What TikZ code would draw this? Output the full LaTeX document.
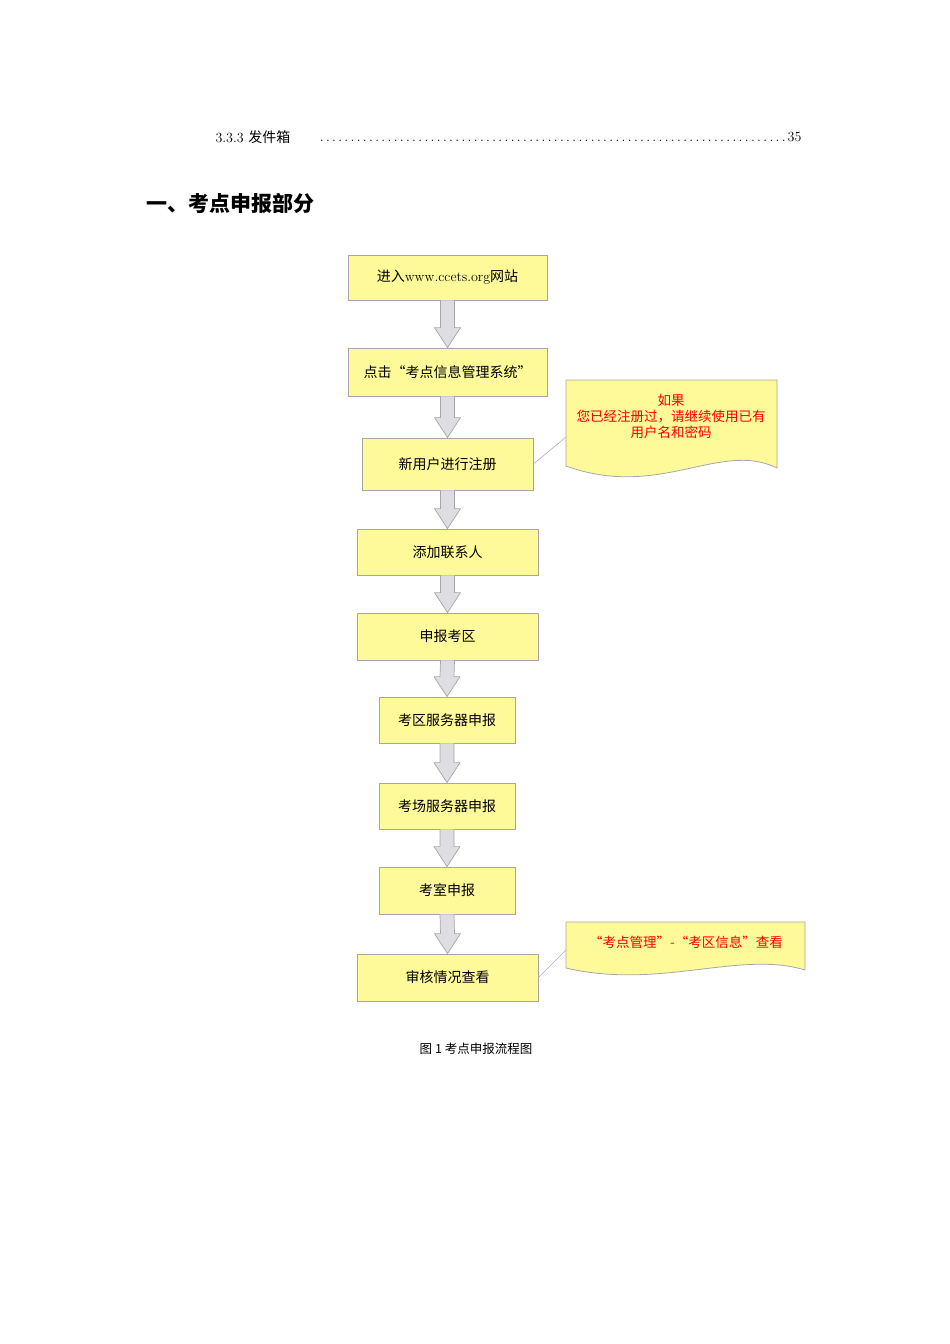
\documentclass[tikz,border=0pt]{standalone}
\usepackage{fontspec}
\newfontfamily\cjk{Noto Sans CJK SC}
\usetikzlibrary{calc}
\newcommand{\flowarrow}[2]{%
  \fill[arr] ($(#1.south)+(-7,0)$) -- ($(#1.south)+(7,0)$) -- ($(#2.north)+(7,-20)$) -- ($(#2.north)+(13,-20)$) -- (#2.north) -- ($(#2.north)+(-13,-20)$) -- ($(#2.north)+(-7,-20)$) -- cycle;
  \draw[arrd] ($(#1.south)+(-7,0)$) -- ($(#2.north)+(-7,-20)$) -- ($(#2.north)+(-13,-20)$) -- (#2.north) -- ($(#2.north)+(13,-20)$) -- ($(#2.north)+(7,-20)$) -- ($(#1.south)+(7,0)$);}
\begin{document}
\begin{tikzpicture}[x=1pt,y=-1pt,
  box/.style={draw=black!35,fill=yellow!40!white,line width=0.8pt,inner sep=0pt,font=\cjk\fontsize{14}{16}\selectfont},
  arr/.style={fill=blue!8!gray!25},
  arrd/.style={draw=gray!70,line width=0.7pt},
  note/.style={font=\cjk\fontsize{13.5}{16}\selectfont,text=red,align=center}]
\useasboundingbox (0,0) rectangle (950,1344);
\node[anchor=west,font=\fontsize{14}{16}\selectfont] (toc) at (212,137) {3.3.3 {\cjk 发件箱}\dotfill};
\node[anchor=east,font=\fontsize{14}{16}\selectfont] (tocn) at (805,137) {\makebox[470pt]{\dotfill}35};
\node[anchor=west,font=\cjk\bfseries\fontsize{21}{24}\selectfont] (head) at (143,203) {一、考点申报部分};
\node[box,minimum width=199,minimum height=45] (b1) at (447.5,277.5) {进入{\rmfamily www.ccets.org}网站};
\node[box,minimum width=199,minimum height=48] (b2) at (447.5,372) {点击“考点信息管理系统”};
\node[box,minimum width=171,minimum height=52] (b3) at (447.5,464) {新用户进行注册};
\node[box,minimum width=181,minimum height=46] (b4) at (447.5,552) {添加联系人};
\node[box,minimum width=181,minimum height=47] (b5) at (447.5,636.5) {申报考区};
\node[box,minimum width=136,minimum height=46] (b6) at (447,720) {考区服务器申报};
\node[box,minimum width=136,minimum height=46] (b7) at (447,806) {考场服务器申报};
\node[box,minimum width=136,minimum height=47] (b8) at (447,890.5) {考室申报};
\node[box,minimum width=181,minimum height=47] (b9) at (447.5,977.5) {审核情况查看};
\flowarrow{b1}{b2}\flowarrow{b2}{b3}\flowarrow{b3}{b4}\flowarrow{b4}{b5}
\flowarrow{b5}{b6}\flowarrow{b6}{b7}\flowarrow{b7}{b8}\flowarrow{b8}{b9}
% callout 1
\draw[draw=black!35,fill=yellow!40!white,line width=0.8pt] (566,380) -- (777,380) -- (777,468) .. controls (720,440) and (660,500) .. (566,466) -- cycle;
\coordinate (c1) at (566,437);
\node[note] (n1) at (671,416) {如果\\您已经注册过，请继续使用已有\\用户名和密码};
\draw[draw=blue!30!gray!50,line width=0.6pt] (b3.east) -- (c1);
% callout 2
\draw[draw=black!35,fill=yellow!40!white,line width=0.8pt] (566,922) -- (805,922) -- (805,970) .. controls (740,950) and (660,990) .. (566,968) -- cycle;
\coordinate (c2) at (566,950);
\node[note] (n2) at (686,942) {“考点管理”-“考区信息”查看};
\draw[draw=blue!30!gray!50,line width=0.6pt] (b9.east) -- (c2);
\node[font=\cjk\fontsize{12.5}{15}\selectfont] (cap) at (476,1049) {图 1 考点申报流程图};
\end{tikzpicture}
\end{document}
